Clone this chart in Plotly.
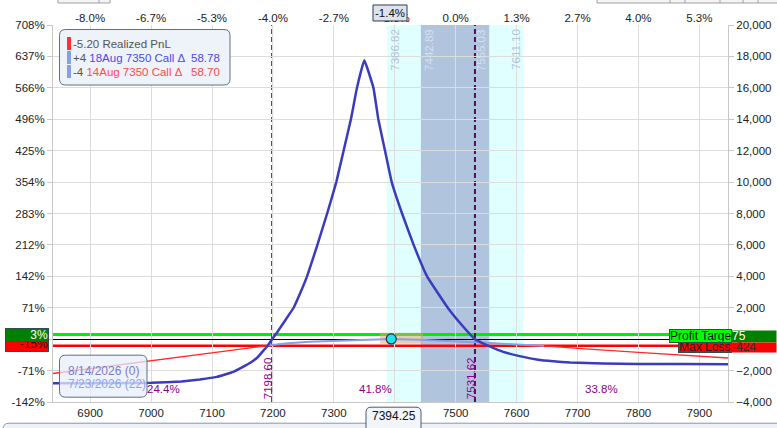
import plotly.graph_objects as go

# expiration (8/14/2026) P&L
expiry_price = [6839, 6900, 6950, 7000, 7050, 7080, 7108, 7135, 7163, 7175, 7185, 7192, 7198.6,
                7207, 7215, 7224, 7234, 7245, 7256, 7273, 7289, 7304, 7316, 7328, 7338, 7350,
                7365, 7373, 7384, 7395, 7412, 7431, 7453, 7487, 7510, 7531.6,
                7557, 7578, 7605, 7633, 7660, 7688, 7742, 7800, 7870, 7947]
expiry_pnl = [-2800, -2800, -2795, -2780, -2690, -2567, -2400, -2083, -1500, -1150, -700, -380, 0,
              440, 900, 1420, 2000, 2950, 4000, 6000, 8000, 10000, 12000, 14000, 16000, 17750,
              16000, 14000, 12000, 10000, 8000, 6000, 4000, 2000, 900, 0,
              -480, -809, -1080, -1293, -1410, -1484, -1548, -1575, -1588, -1592]

# today's (7/23/2026, 22 days) P&L
t0_price = [6839, 6920, 7000, 7060, 7108, 7150, 7189, 7220, 7260, 7300, 7350, 7394,
            7440, 7500, 7550, 7600, 7645, 7700, 7800, 7900, 7947]
t0_pnl = [-2185, -1780, -1390, -1100, -870, -660, -424, -280, -160, -95, -30, 15,
          -30, -120, -230, -340, -424, -590, -840, -1090, -1200]

dollar_ticks = [-4000, -2000, 0, 2000, 4000, 6000, 8000, 10000, 12000, 14000, 16000, 18000, 20000]
pct_labels = ["-142%", "-71%", "0%", "71%", "142%", "212%", "283%", "354%", "425%",
              "496%", "566%", "637%", "708%"]
price_ticks = [6900, 7000, 7100, 7200, 7300, 7400, 7500, 7600, 7700, 7800, 7900]
move_labels = ["-8.0%", "-6.7%", "-5.3%", "-4.0%", "-2.7%", "-1.3%", "0.0%", "1.3%",
               "2.7%", "4.0%", "5.3%"]

spot = 7394.25
spot_pnl = 15
breakevens = [7198.60, 7531.62]
one_sd = [7442.89, 7555.03]
two_sd = [7386.82, 7611.10]
max_loss = -424
target_line = 300          # green line sits a few px above zero in the picture
region_pct = ["24.4%", "41.8%", "33.8%"]
region_mid = [7020, 7368, 7740]

X_RANGE = [6839, 7947]
Y_RANGE = [-4000, 20000]
FONT = "Liberation Sans, Arial, sans-serif"

# pixel -> paper helpers (plot area is 53..728 x 25..401.8 in a 777x428 page)
L, R, T, B = 53, 728, 25, 401.8


def px(x):
    return (x - L) / (R - L)


def py(y):
    return (B - y) / (B - T)


def rrect(x0, y0, x1, y1, r):
    return (f"M {px(x0 + r)},{py(y0)} L {px(x1 - r)},{py(y0)} Q {px(x1)},{py(y0)} {px(x1)},{py(y0 + r)} "
            f"L {px(x1)},{py(y1 - r)} Q {px(x1)},{py(y1)} {px(x1 - r)},{py(y1)} "
            f"L {px(x0 + r)},{py(y1)} Q {px(x0)},{py(y1)} {px(x0)},{py(y1 - r)} "
            f"L {px(x0)},{py(y0 + r)} Q {px(x0)},{py(y0)} {px(x0 + r)},{py(y0)} Z")


def rect(x0, y0, x1, y1, fill, line=None, width=1, layer="above"):
    return dict(type="rect", xref="paper", yref="paper", x0=px(x0), x1=px(x1), y0=py(y1), y1=py(y0),
                fillcolor=fill, line=dict(color=line or fill, width=width if line else 0), layer=layer)


def label(x, y, text, color, anchor="left", size=11.5):
    # plain text placed by page pixel, centred vertically on y
    return dict(x=px(x), y=py(y), xref="paper", yref="paper", xanchor=anchor, yanchor="middle",
                showarrow=False, text=text, font=dict(size=size, color=color))


def tag(x0, y0, x1, y1, text, bg, color, border=None, align="left", size=12):
    # text box with a fixed size, drawn as an annotation so later tags cover earlier ones
    d = dict(x=px(x0), y=py(y0), xref="paper", yref="paper", xanchor="left", yanchor="top",
             showarrow=False, text=text, align=align, width=x1 - x0 - 2, height=y1 - y0 - 2,
             borderpad=0, bgcolor=bg, font=dict(size=size, color=color))
    if border:
        d.update(bordercolor=border, borderwidth=1)
    return d


# split today's line into red (below max loss) and light blue parts
t0_red = [v if v <= max_loss else None for v in t0_pnl]
t0_blue = [v if v >= max_loss else None for v in t0_pnl]

fig = go.Figure()
fig.add_trace(go.Scatter(x=t0_price, y=t0_red, mode="lines", line=dict(color="#ff2a2a", width=1.3),
                         connectgaps=False, hoverinfo="skip"))
fig.add_trace(go.Scatter(x=t0_price, y=t0_blue, mode="lines", line=dict(color="#86a0e8", width=2),
                         connectgaps=False, hoverinfo="skip"))
fig.add_trace(go.Scatter(x=expiry_price, y=expiry_pnl, mode="lines", line_shape="spline",
                         line=dict(color="#3b3bbf", width=2.5, smoothing=0.3), hoverinfo="skip"))
fig.add_trace(go.Scatter(x=[spot], y=[spot_pnl], mode="markers",
                         marker=dict(size=10, color="#1fe3f0", line=dict(color="#1a3040", width=1.2)),
                         hoverinfo="skip"))
# carries the top % axis and the left % axis
fig.add_trace(go.Scatter(x=[spot], y=[None], xaxis="x2", yaxis="y2", mode="lines", hoverinfo="skip"))

shapes = [
    # probability bands
    dict(type="rect", xref="x", yref="paper", x0=two_sd[0], x1=two_sd[1], y0=0, y1=1,
         fillcolor="#e0ffff", line=dict(width=0), layer="below"),
    dict(type="rect", xref="x", yref="paper", x0=one_sd[0], x1=one_sd[1], y0=0, y1=1,
         fillcolor="#b0c4de", line=dict(width=0), layer="below"),
    # target / max loss lines
    dict(type="line", xref="paper", yref="y", x0=0, x1=1, y0=target_line, y1=target_line,
         line=dict(color="#00ee00", width=3), layer="between"),
    dict(type="line", xref="paper", yref="y", x0=0, x1=1, y0=max_loss, y1=max_loss,
         line=dict(color="#ff0000", width=2.5), layer="between"),
    # highlight around spot
    dict(type="rect", xref="x", yref="paper", x0=7376, x1=7446, y0=py(343.5), y1=py(332.5),
         fillcolor="rgba(235,160,100,0.5)", line=dict(width=0), layer="between"),
]
for be, col in zip(breakevens, ["#b000b8", "#5a0a5a"]):
    shapes.append(dict(type="line", xref="x", yref="paper", x0=be, x1=be, y0=0, y1=1,
                       line=dict(color=col, width=2, dash="5px,3px"), layer="between"))

# top-left info box
shapes.append(dict(type="path", xref="paper", yref="paper", path=rrect(59.5, 29.5, 230, 85, 6),
                   fillcolor="#eef2f9", line=dict(color="#5f6f85", width=1), layer="above"))
shapes.append(rect(67, 37, 71, 50, "#ff3030"))
shapes.append(rect(67, 51, 71, 64, "#86a0e8"))
shapes.append(rect(67, 65, 71, 78, "#86a0e8"))
# bottom-left date box
shapes.append(dict(type="path", xref="paper", yref="paper", path=rrect(59.5, 355, 147, 397, 6),
                   fillcolor="rgba(232,238,250,0.75)", line=dict(color="#5f6f85", width=1), layer="above"))
# spot price tag at the bottom, outer frame, toolbar bits
shapes.append(dict(type="path", xref="paper", yref="paper", path=rrect(3, 423, 790, 460, 6),
                   fillcolor="#eef2f8", line=dict(color="#8a97a8", width=1), layer="above"))
shapes.append(dict(type="path", xref="paper", yref="paper", path=rrect(366, 407, 421, 440, 5),
                   fillcolor="#f2f5fa", line=dict(color="#4a5a70", width=1), layer="above"))
shapes.append(rect(373, 5, 407, 21, "#dde3ea", "#2c3e55", 1))
shapes.append(rect(58, -6, 110, 3, "#f4f4f4", "#a0a0a0", 1))
shapes.append(rect(597, -6, 790, 3, "#f4f4f4", "#a0a0a0", 1))
for xv in [99, 670, 685, 720, 743, 758]:
    shapes.append(dict(type="line", xref="paper", yref="paper", x0=px(xv), x1=px(xv), y0=py(3), y1=py(-6),
                       line=dict(color="#a0a0a0", width=1), layer="above"))

ann = []
# band edge labels
for val, anchor, col in [(two_sd[0], "left", "#b2c4da"), (one_sd[0], "left", "#d6e0ee"),
                         (one_sd[1], "right", "#d6e0ee"), (two_sd[1], "right", "#b2c4da")]:
    ann.append(dict(x=val, xref="x", y=py(27), yref="paper", text=f"{val:.2f}", textangle=-90,
                    showarrow=False, xanchor=anchor, yanchor="top", font=dict(size=11.5, color=col)))
# breakeven labels
for be in breakevens:
    ann.append(dict(x=be, xref="x", y=py(401), yref="paper", text=f"{be:.2f}", textangle=-90,
                    showarrow=False, xanchor="center", xshift=-4, yanchor="bottom",
                    font=dict(size=11.5, color="#8b008b")))
# probability of each region
for txt, mid in zip(region_pct, region_mid):
    ann.append(dict(x=mid, xref="x", y=py(389), yref="paper", text=txt, showarrow=False,
                    xanchor="center", yanchor="middle", font=dict(size=11.5, color="#8b008b")))

# info box text
ann.append(label(71, 43.5, '<span style="color:#555">-5.20 Realized PnL</span>', "#555"))
ann.append(label(71, 57.5, '<span style="color:#555">+4 </span>'
                           '<span style="color:#4b4be6">18Aug 7350 Call Δ</span>', "#555"))
ann.append(label(71, 72, '<span style="color:#555">-4 </span>'
                         '<span style="color:#ff4b4b">14Aug 7350 Call Δ</span>', "#555"))
ann.append(label(222, 57.5, "58.78", "#4b4be6", anchor="right"))
ann.append(label(222, 72, "58.70", "#ff4b4b", anchor="right"))
# date box text
ann.append(label(66, 370.5, "8/14/2026 (0)", "#7b7bd0", size=12))
ann.append(label(66, 383.5, "7/23/2026 (22)", "#8aa8f0", size=12))
# left tags: the green one covers the top of the red one
ann.append(tag(5, 335, 49, 352, "-15%", "#ff0000", "#3a0000", border="#2f4f4f", align="right"))
ann.append(tag(5, 328, 49, 342, "3%", "#008000", "white", border="#2f4f4f", align="right"))
# right tags
ann.append(tag(669, 328.5, 732, 342, "Profit Target", "#00ff00", "#111", border="#2f4f4f"))
ann.append(tag(731, 329.5, 777, 342, "75", "#008000", "white"))
ann.append(tag(678, 341.5, 732, 352, "Max Loss", "#ff0000", "#222", border="#2f4f4f"))
ann.append(tag(731, 341.5, 777, 352, "-424", "#ff0000", "#333"))
# spot tags
ann.append(label(393.5, 415.5, f"{spot:.2f}", "#111", anchor="center", size=12))
ann.append(label(390, 13, f"{(spot - 7500) / 7500 * 100:.1f}%", "#111", anchor="center"))

tick_font = dict(size=11.5, color="#222")
fig.update_layout(
    width=777, height=428,
    margin=dict(l=L, r=777 - R, t=T, b=428 - B, pad=0),
    plot_bgcolor="white", paper_bgcolor="white",
    font=dict(family=FONT, size=11.5, color="#222"),
    showlegend=False,
    xaxis=dict(range=X_RANGE, tickvals=price_ticks, showgrid=True, gridcolor="#dcdcdc",
               showline=True, linecolor="#c8c8c8", zeroline=False, ticks="", automargin=False,
               tickfont=tick_font),
    xaxis2=dict(range=X_RANGE, overlaying="x", side="top", tickvals=price_ticks, ticktext=move_labels,
                showgrid=False, showline=False, zeroline=False, ticks="", automargin=False,
                tickfont=tick_font),
    yaxis=dict(range=Y_RANGE, side="right", tickvals=dollar_ticks, tickformat=",d",
               showgrid=True, gridcolor="#dcdcdc", zeroline=True, zerolinecolor="#000000",
               zerolinewidth=1, showline=True, linecolor="#c8c8c8", ticks="outside", ticklen=5,
               tickcolor="#c8c8c8", automargin=False, tickfont=tick_font),
    yaxis2=dict(range=Y_RANGE, overlaying="y", side="left", tickvals=dollar_ticks, ticktext=pct_labels,
                showgrid=False, zeroline=False, showline=True, linecolor="#c8c8c8", ticks="outside",
                ticklen=5, tickcolor="#c8c8c8", automargin=False, tickfont=tick_font),
    shapes=shapes,
    annotations=ann,
)

# the page body keeps a default 8px margin; drop it so the figure fills the window
fig.write_html("out.html", config={"displayModeBar": False},
               post_script="document.body.style.margin='0px';")
